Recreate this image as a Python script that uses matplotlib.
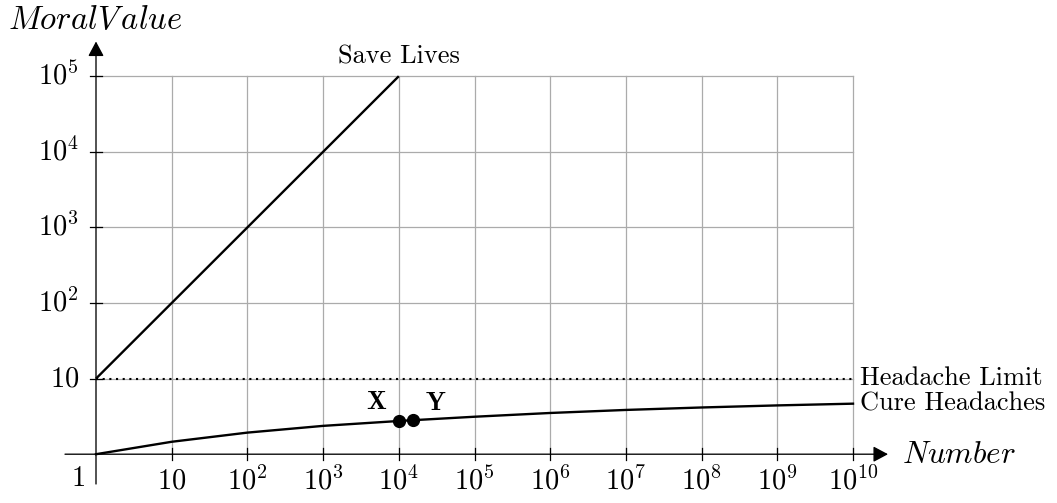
"""Moral value vs number: saving lives vs curing headaches (log-log sketch)."""
import numpy as np
import matplotlib
matplotlib.use("Agg")
import matplotlib.pyplot as plt

plt.rcParams["mathtext.fontset"] = "cm"

# ---- data ----
decade_exponents = list(range(0, 11))          # x grid: 1 .. 1e10
value_exponents = list(range(0, 6))            # y grid: 1 .. 1e5
save_lives_number = [1, 1e4]
save_lives_value = [10, 1e5]
headache_limit = 10
cure_number = [1, 10, 1e2, 1e3, 1e4, 1e5, 1e6, 1e7, 1e8, 1e9, 1e10]
cure_value = [1.0, 1.46, 1.93, 2.37, 2.75, 3.13, 3.51, 3.85, 4.15, 4.42, 4.66]
point_x = (1e4, 2.75)
point_y = (1.56e4, 2.84)
x_tick_labels = ["10"] + [f"10^{{{k}}}" for k in range(2, 11)]
y_tick_labels = ["10"] + [f"10^{{{k}}}" for k in range(2, 6)]

# ---- layout: one axes spanning the whole figure, pixel-matched ----
W, H, DPI = 1057, 503, 100
PX_X = 75.7   # pixels per decade along x
PX_Y = 75.6   # pixels per decade along y
X0, Y0 = 96, 454.2  # pixel position of (1, 1)


def dx(px):
    """pixel offset along x -> multiplicative factor in log data space"""
    return 10 ** (px / PX_X)


def dy(px):
    return 10 ** (px / PX_Y)


fig = plt.figure(figsize=(W / DPI, H / DPI), dpi=DPI)
ax = fig.add_axes([0, 0, 1, 1])
ax.set_xscale("log")
ax.set_yscale("log")
ax.set_xlim(10 ** (-X0 / PX_X), 10 ** ((W - X0) / PX_X))
ax.set_ylim(10 ** (-(H - Y0) / PX_Y), 10 ** (Y0 / PX_Y))
ax.axis("off")

grid_kw = dict(color="#ababab", lw=0.9, zorder=1)
for k in decade_exponents[1:]:
    ax.plot([10 ** k, 10 ** k], [1, 1e5], **grid_kw)
for k in value_exponents[1:]:
    ax.plot([1, 1e10], [10 ** k, 10 ** k], **grid_kw)

# axes with arrows
arrow_kw = dict(arrowstyle="-|>,head_length=0.45,head_width=0.24",
                mutation_scale=20, lw=0.95, color="black",
                shrinkA=0, shrinkB=0)
ax.annotate("", xy=(dx(888 - X0), 1), xytext=(dx(65 - X0), 1),
            arrowprops=arrow_kw, zorder=3)
ax.annotate("", xy=(1, dy(Y0 - 41.5)), xytext=(1, dy(Y0 - 484)),
            arrowprops=arrow_kw, zorder=3)

# tick marks
for k in decade_exponents[1:]:
    ax.plot([10 ** k, 10 ** k], [dy(-6), dy(6)], color="black", lw=0.9, zorder=3)
for k in value_exponents[1:]:
    ax.plot([dx(-6), dx(6)], [10 ** k, 10 ** k], color="black", lw=0.9, zorder=3)

# tick labels
tick_fs = 20.5
for k, lab in zip(decade_exponents[1:], x_tick_labels):
    ax.text(10 ** k, dy(-12.5), f"${lab}$", ha="center", va="top", fontsize=tick_fs)
for k, lab in zip(value_exponents[1:], y_tick_labels):
    ax.text(dx(-17), 10 ** k, f"${lab}$", ha="right", va="center", fontsize=tick_fs)
ax.text(dx(-11), dy(-10), "$1$", ha="right", va="top", fontsize=tick_fs)

# series
ax.plot(save_lives_number, save_lives_value, color="black", lw=1.7, zorder=4,
        solid_capstyle="butt")
ax.plot([1, 1e10], [headache_limit, headache_limit], color="black", lw=1.5,
        linestyle=(0, (1, 2.2)), zorder=4)
ax.plot(cure_number, cure_value, color="black", lw=1.7, zorder=4)
ax.plot(*point_x, "o", color="black", ms=8.5, zorder=5)
ax.plot(*point_y, "o", color="black", ms=8.5, zorder=5)

# annotations
txt_fs = 19
ax.text(save_lives_number[-1], save_lives_value[-1] * dy(8), "Save Lives",
        ha="center", va="bottom", fontsize=txt_fs, family="cmr10")
ax.text(cure_number[-1] * dx(7), headache_limit, "Headache Limit",
        ha="left", va="center", fontsize=txt_fs, family="cmr10")
ax.text(cure_number[-1] * dx(7), cure_value[-1], "Cure Headaches",
        ha="left", va="center", fontsize=txt_fs, family="cmr10")
ax.text(point_x[0] / dx(22), point_x[1] * dy(19), r"$\mathbf{X}$",
        ha="center", va="center", fontsize=19)
ax.text(point_y[0] * dx(22), point_y[1] * dy(17), r"$\mathbf{Y}$",
        ha="center", va="center", fontsize=19)
ax.text(dx(902 - X0), 1, "$Number$", ha="left", va="center", fontsize=22.5)
ax.text(dx(8 - X0), dy(Y0 - 20), r"$MoralV\,alue$", ha="left", va="center",
        fontsize=23.5)

fig.savefig("out.png", dpi=DPI)
plt.close(fig)
